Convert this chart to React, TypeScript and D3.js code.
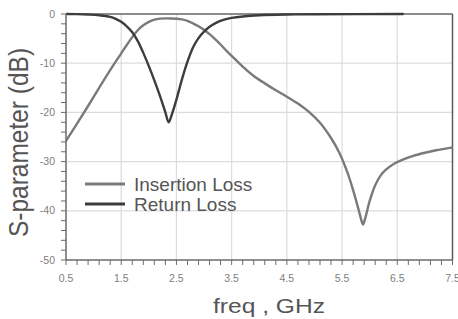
import React from "react";
import * as d3 from "d3";

const freqIL = [0.5, 0.7, 0.9, 1.1, 1.3, 1.5, 1.6, 1.7, 1.8, 1.9, 2.0, 2.1, 2.2, 2.4, 2.6, 2.7, 2.8, 2.9, 3.0, 3.1, 3.2, 3.3, 3.4, 3.5, 3.7, 3.9, 4.1, 4.3, 4.5, 4.7, 4.9, 5.1, 5.3, 5.45, 5.6, 5.7, 5.8, 5.86, 5.88, 5.92, 6.0, 6.1, 6.2, 6.3, 6.45, 6.6, 6.8, 7.0, 7.2, 7.5];
const insertionLoss = [-25.8, -22.3, -18.7, -15.0, -11.4, -8.0, -6.3, -4.7, -3.3, -2.3, -1.6, -1.15, -0.95, -0.9, -1.1, -1.4, -1.9, -2.5, -3.2, -4.1, -5.1, -6.2, -7.4, -8.5, -10.7, -12.6, -14.1, -15.5, -16.8, -18.2, -19.9, -22.1, -25.2, -28.2, -32.3, -35.8, -39.8, -42.3, -42.8, -41.5, -38.0, -34.8, -32.8, -31.6, -30.4, -29.6, -28.8, -28.2, -27.7, -27.1];

const freqRL = [0.5, 0.7, 0.9, 1.1, 1.3, 1.4, 1.5, 1.6, 1.7, 1.8, 1.9, 2.0, 2.1, 2.2, 2.3, 2.36, 2.42, 2.5, 2.6, 2.7, 2.8, 2.9, 3.0, 3.1, 3.2, 3.35, 3.5, 3.7, 4.0, 4.5, 5.0, 6.6];
const returnLoss = [0, -0.02, -0.1, -0.25, -0.6, -1.0, -1.6, -2.5, -3.7, -5.5, -7.9, -10.6, -13.5, -16.6, -20.0, -22.0, -20.3, -17.4, -13.3, -9.7, -6.8, -4.9, -3.6, -2.6, -1.9, -1.2, -0.8, -0.5, -0.25, -0.1, -0.05, 0];

const xTickLabels = ["0.5", "1.5", "2.5", "3.5", "4.5", "5.5", "6.5", "7.5"];
const yTickLabels = ["0", "-10", "-20", "-30", "-40", "-50"];
const legendLabels = ["Insertion Loss", "Return Loss"];

const W = 458, H = 319;
const L = 66, R = 452.5, T = 14, B = 260;
const FONT = "'Liberation Sans', Arial, sans-serif";

export default function App() {
  const x = d3.scaleLinear().domain([0.5, 7.5]).range([L, R]);
  const y = d3.scaleLinear().domain([-50, 0]).range([B, T]);
  const line = d3.line<[number, number]>().x(d => x(d[0])).y(d => y(d[1])).curve(d3.curveCatmullRom.alpha(0.5));
  const ilPts = freqIL.map((f, i) => [f, insertionLoss[i]] as [number, number]);
  const rlPts = freqRL.map((f, i) => [f, returnLoss[i]] as [number, number]);
  const xMinor = d3.range(0.5, 7.5001, 0.2);
  const yMinor = d3.range(-50, 0.001, 2);
  const xMajor = xTickLabels.map(Number);
  const yMajor = yTickLabels.map(Number);
  const colIL = "#7a7a7a";
  const colRL = "#3d3d3d";
  const axisCol = "#6a6a6a";
  const labelCol = "#808080";

  return (
    <svg width={W} height={H} style={{ position: "absolute", left: 0, top: 0, background: "#fff" }}>
      <defs>
        <clipPath id="plot">
          <rect x={L} y={T - 2} width={R - L} height={B - T + 4} />
        </clipPath>
      </defs>
      {xMajor.slice(1, -1).map(v => (
        <line key={"gx" + v} x1={x(v)} x2={x(v)} y1={T} y2={B} stroke="#dcdcdc" strokeWidth={1.2} />
      ))}
      {yMajor.slice(1, -1).map(v => (
        <line key={"gy" + v} x1={L} x2={R} y1={y(v)} y2={y(v)} stroke="#dcdcdc" strokeWidth={1.2} />
      ))}
      <line x1={L} x2={R} y1={T} y2={T} stroke="#8c8c8c" strokeWidth={2} />
      <line x1={R} x2={R} y1={T} y2={B} stroke="#5a5a5a" strokeWidth={1.5} />
      <g clipPath="url(#plot)" fill="none" strokeLinejoin="round" strokeLinecap="round">
        <path d={line(ilPts) || ""} stroke={colIL} strokeWidth={2.4} />
        <path d={line(rlPts) || ""} stroke={colRL} strokeWidth={2.4} />
      </g>
      <line x1={L} x2={L} y1={T} y2={B} stroke={axisCol} strokeWidth={1.5} />
      <line x1={L} x2={R} y1={B} y2={B} stroke={axisCol} strokeWidth={1.5} />
      {xMinor.map((v, i) => (
        <line key={"tx" + i} x1={x(v)} x2={x(v)} y1={B} y2={B + 5} stroke={axisCol} strokeWidth={1} />
      ))}
      {yMinor.map((v, i) => (
        <line key={"ty" + i} x1={L - 5} x2={L} y1={y(v)} y2={y(v)} stroke={axisCol} strokeWidth={1} />
      ))}
      {xTickLabels.map((t, i) => (
        <text key={"lx" + t} x={x(xMajor[i])} y={281.5} textAnchor="middle" fontFamily={FONT} fontSize={10.5} fill={labelCol}>{t}</text>
      ))}
      {yTickLabels.map((t, i) => (
        <text key={"ly" + t} x={55} y={y(yMajor[i]) + 3.5} textAnchor="end" fontFamily={FONT} fontSize={10.5} fill={labelCol}>{t}</text>
      ))}
      {legendLabels.map((t, i) => (
        <g key={t}>
          <line x1={85} x2={125} y1={184 + i * 20} y2={184 + i * 20} stroke={i === 0 ? colIL : colRL} strokeWidth={3} />
          <text x={134} y={191 + i * 20} fontFamily={FONT} fontSize={19} fill="#555">{t}</text>
        </g>
      ))}
      <text x={213} y={313} fontFamily={FONT} fontSize={20} fill="#555" textLength={112} lengthAdjust="spacingAndGlyphs">freq , GHz</text>
      <text transform="translate(28,142.5) rotate(-90) scale(1,1.15)" textAnchor="middle" fontFamily={FONT} fontSize={24.5} fill="#555">S-parameter (dB)</text>
    </svg>
  );
}
